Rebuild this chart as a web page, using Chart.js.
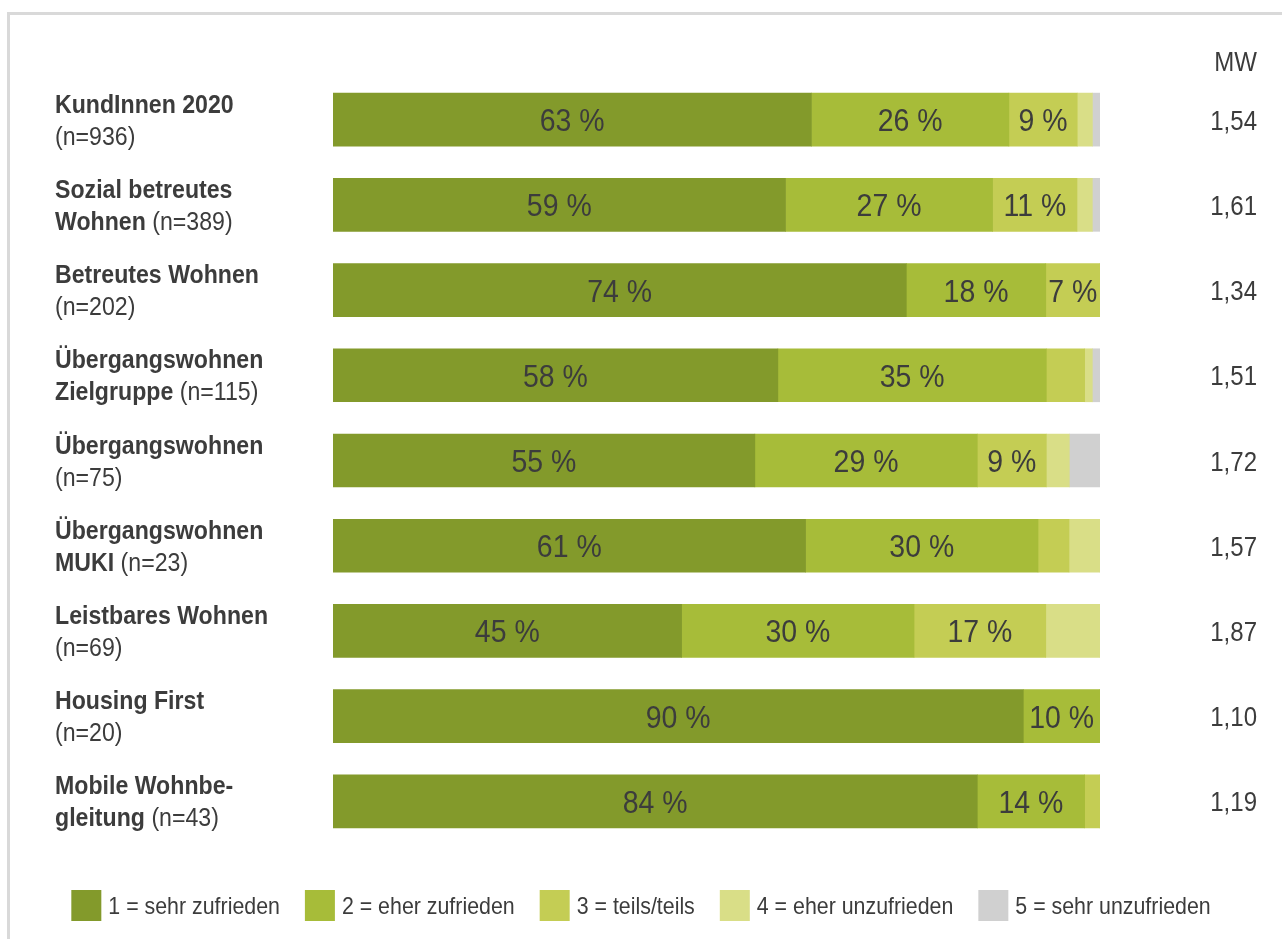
<!DOCTYPE html>
<html lang="de">
<head>
<meta charset="utf-8">
<title>Zufriedenheit nach Wohnform</title>
<script src="https://cdn.jsdelivr.net/npm/chart.js@4.4.1/dist/chart.umd.min.js"></script>
<style>
  html, body { margin: 0; padding: 0; background: #fff; }
  #wrap { position: relative; width: 1282px; height: 939px; overflow: hidden; }
  #frame { position: absolute; left: 7px; top: 12px; width: 1400px; height: 1000px;
           border-left: 3px solid #d9d9d9; border-top: 3px solid #d9d9d9; }
  #chart { position: absolute; left: 0; top: 0; }
</style>
</head>
<body>
<div id="wrap">
  <div id="frame"></div>
  <canvas id="chart" width="1282" height="939"></canvas>
</div>
<script>
// group names, split into the two printed lines (first line bold,
// second line: optional bold part followed by the sample size)
const nameLines = [
  ['KundInnen 2020', ''],
  ['Sozial betreutes', 'Wohnen'],
  ['Betreutes Wohnen', ''],
  ['Übergangswohnen', 'Zielgruppe'],
  ['Übergangswohnen', ''],
  ['Übergangswohnen', 'MUKI'],
  ['Leistbares Wohnen', ''],
  ['Housing First', ''],
  ['Mobile Wohnbe-', 'gleitung']
];
const sampleSizes = [936, 389, 202, 115, 75, 23, 69, 20, 43];

// answers in percent, one array per answer category
const sehrZufrieden   = [63, 59, 74, 58, 55, 61, 45, 90, 84];
const eherZufrieden   = [26, 27, 18, 35, 29, 30, 30, 10, 14];
const teilsTeils      = [9, 11, 7, 5, 9, 4, 17, 0, 2];
const eherUnzufrieden = [2, 2, 0, 1, 3, 4, 7, 0, 0];
const sehrUnzufrieden = [1, 1, 0, 1, 4, 0, 0, 0, 0];

// mean value (MW) on the 1-5 scale
const meanValues = [1.54, 1.61, 1.34, 1.51, 1.72, 1.57, 1.87, 1.10, 1.19];

const seriesLabels = ['1 = sehr zufrieden', '2 = eher zufrieden', '3 = teils/teils',
                      '4 = eher unzufrieden', '5 = sehr unzufrieden'];
const seriesColors = ['#839a2b', '#a7bc39', '#c4cd54', '#d9de87', '#d0d0d0'];

const FONT = "'Liberation Sans', Arial, sans-serif";
const TEXT = '#3c3c3c';
const NARROW = 0.89;   // horizontal squeeze for the condensed look

const seriesValues = [sehrZufrieden, eherZufrieden, teilsTeils, eherUnzufrieden, sehrUnzufrieden];
const categories = nameLines.map(l => (l[0] + ' ' + l[1]).trim());

// rounded percentages don't always add up to 100, so each bar shows the share of its row total
const rowTotals = categories.map((_, i) => seriesValues.reduce((s, arr) => s + arr[i], 0));

const fmt = v => v.toFixed(2).replace('.', ',');

// fillText with a horizontally condensed glyph shape; returns the drawn width
function narrowText(ctx, text, x, y, align) {
  const w = ctx.measureText(text).width * NARROW;
  let left = x;
  if (align === 'center') left = x - w / 2;
  else if (align === 'right') left = x - w;
  ctx.save();
  ctx.translate(left, y);
  ctx.scale(NARROW, 1);
  ctx.textAlign = 'left';
  ctx.fillText(text, 0, 0);
  ctx.restore();
  return w;
}

// draws the group names, the percent labels inside the bars, the MW column and the legend
const rowText = {
  id: 'rowText',
  afterDatasetsDraw(chart) {
    const { ctx } = chart;
    const yScale = chart.scales.y;
    ctx.save();
    ctx.fillStyle = TEXT;
    ctx.textBaseline = 'alphabetic';

    // percent labels (only the first three answer groups, and not on thin slices)
    ctx.font = '32px ' + FONT;
    seriesValues.forEach((arr, di) => {
      if (di > 2) return;
      chart.getDatasetMeta(di).data.forEach((bar, i) => {
        if (arr[i] < 6) return;
        narrowText(ctx, arr[i] + ' %', (bar.x + bar.base) / 2, bar.y + 11.5, 'center');
      });
    });

    // group names on the left
    categories.forEach((_, i) => {
      const cy = yScale.getPixelForValue(i);
      const [first, second] = nameLines[i];
      ctx.font = 'bold 26px ' + FONT;
      narrowText(ctx, first, 55, cy - 7, 'left');
      let x = 55;
      let n = '(n=' + sampleSizes[i] + ')';
      if (second) {
        x += narrowText(ctx, second, x, cy + 25, 'left');
        n = ' ' + n;
      }
      ctx.font = '26px ' + FONT;
      narrowText(ctx, n, x, cy + 25, 'left');
    });

    // MW column on the right
    ctx.font = '27px ' + FONT;
    narrowText(ctx, 'MW', 1257, 71, 'right');
    meanValues.forEach((v, i) => {
      narrowText(ctx, fmt(v), 1257, yScale.getPixelForValue(i) + 10, 'right');
    });

    // legend row, centred under the chart
    ctx.font = '24px ' + FONT;
    const boxW = 30, boxH = 31, textGap = 7, itemGap = 25, boxTop = 890;
    const widths = seriesLabels.map(t => ctx.measureText(t).width * NARROW);
    const total = widths.reduce((s, w) => s + boxW + textGap + w, 0) + itemGap * (widths.length - 1);
    let lx = (chart.width - total) / 2;
    seriesLabels.forEach((t, di) => {
      ctx.fillStyle = seriesColors[di];
      ctx.fillRect(lx, boxTop, boxW, boxH);
      ctx.fillStyle = TEXT;
      narrowText(ctx, t, lx + boxW + textGap, boxTop + boxH / 2 + 8.6, 'left');
      lx += boxW + textGap + widths[di] + itemGap;
    });
    ctx.restore();
  }
};

new Chart(document.getElementById('chart'), {
  type: 'bar',
  data: {
    labels: categories,
    datasets: seriesValues.map((arr, di) => ({
      label: seriesLabels[di],
      data: arr.map((v, i) => v / rowTotals[i] * 100),
      backgroundColor: seriesColors[di],
      borderWidth: 0,
      barThickness: 53
    }))
  },
  options: {
    indexAxis: 'y',
    responsive: false,
    animation: false,
    layout: { padding: { top: 77, bottom: 95, left: 333, right: 182 } },
    scales: {
      x: { stacked: true, min: 0, max: 100, display: false },
      y: { stacked: true, display: false }
    },
    plugins: {
      tooltip: { enabled: false },
      legend: { display: false }
    }
  },
  plugins: [rowText]
});
</script>
</body>
</html>
